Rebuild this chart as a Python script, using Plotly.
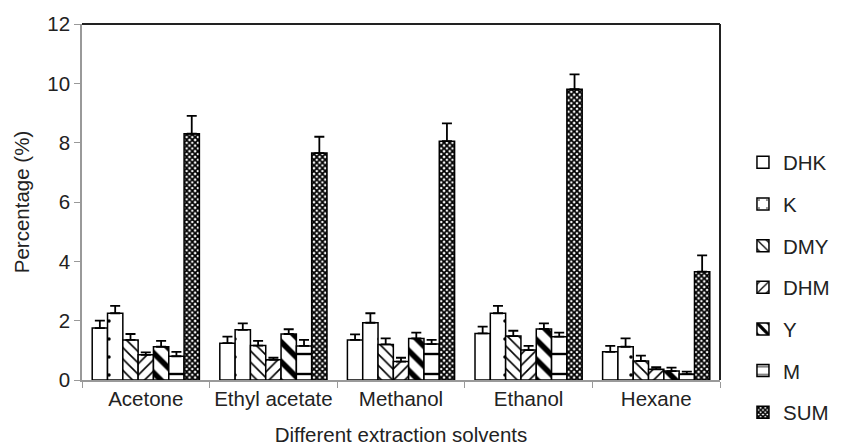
import plotly.graph_objects as go

solvents = ["Acetone", "Ethyl acetate", "Methanol", "Ethanol", "Hexane"]
series_names = ["DHK", "K", "DMY", "DHM", "Y", "M", "SUM"]

dhk = [1.75, 1.24, 1.35, 1.57, 0.95]
dhk_err = [0.25, 0.22, 0.19, 0.23, 0.20]
k = [2.25, 1.69, 1.93, 2.25, 1.12]
k_err = [0.25, 0.22, 0.32, 0.25, 0.28]
dmy = [1.35, 1.16, 1.20, 1.48, 0.64]
dmy_err = [0.20, 0.16, 0.20, 0.18, 0.18]
dhm = [0.85, 0.68, 0.62, 1.01, 0.36]
dhm_err = [0.08, 0.07, 0.13, 0.14, 0.07]
y_ = [1.12, 1.55, 1.40, 1.72, 0.30]
y_err = [0.20, 0.16, 0.20, 0.19, 0.12]
m = [0.80, 1.15, 1.21, 1.46, 0.20]
m_err = [0.15, 0.20, 0.14, 0.14, 0.08]
total = [8.30, 7.65, 8.05, 9.80, 3.65]
total_err = [0.60, 0.55, 0.60, 0.50, 0.55]

values = [dhk, k, dmy, dhm, y_, m, total]
errors = [dhk_err, k_err, dmy_err, dhm_err, y_err, m_err, total_err]

patterns = [
    dict(shape=""),
    dict(shape=".", size=18, solidity=0.03, fgcolor="black", fgopacity=1),
    dict(shape="\\", size=8, solidity=0.2, fgcolor="black", fgopacity=1),
    dict(shape="/", size=8, solidity=0.2, fgcolor="black", fgopacity=1),
    dict(shape="\\", size=14, solidity=0.4, fgcolor="black", fgopacity=1),
    dict(shape="-", size=20, solidity=0.12, fgcolor="black", fgopacity=1),
    dict(shape="x", size=4, solidity=0.7, fgcolor="black", fgopacity=1),
]

FONT = "Liberation Sans, Arial, sans-serif"
FS = 20.5
fig = go.Figure()
for i, name in enumerate(series_names):
    fig.add_trace(go.Bar(
        x=solvents, y=values[i], name=name,
        legendgroup=name,
        marker=dict(color="white", line=dict(color="black", width=1.5),
                    pattern=patterns[i]),
        error_y=dict(type="data", symmetric=False, array=errors[i],
                     arrayminus=[0] * len(solvents),
                     color="black", thickness=1.8, width=5),
    ))

fig.update_layout(
    width=833, height=438,
    margin=dict(l=74, r=121, t=16, b=66, autoexpand=False),
    paper_bgcolor="white", plot_bgcolor="white",
    barmode="group", bargap=0.16, bargroupgap=0,
    font=dict(family=FONT, size=FS, color="#222"),
    legend=dict(x=1.036, xanchor="left", y=0.667, yanchor="top",
                tracegroupgap=12, font=dict(size=FS),
                itemwidth=30, bgcolor="rgba(0,0,0,0)"),
    xaxis=dict(title=dict(text="Different extraction solvents", standoff=18,
                          font=dict(size=FS)),
               automargin=False, tickangle=0,
               showline=True, linecolor="#999", linewidth=1.5,
               tickson="boundaries", ticks="outside", ticklen=6,
               tickcolor="#999", showgrid=False),
    yaxis=dict(title=dict(text="Percentage (%)", standoff=12, font=dict(size=FS)),
               automargin=False,
               range=[0, 12], dtick=2, showline=True, linecolor="#999",
               linewidth=1.5, ticks="outside", ticklen=6, tickcolor="#999",
               showgrid=False, zeroline=False),
    shapes=[
        dict(type="line", xref="paper", yref="paper", x0=0, x1=1, y0=1, y1=1,
             line=dict(color="#222", width=2)),
        dict(type="line", xref="paper", yref="paper", x0=1, x1=1, y0=0, y1=1,
             line=dict(color="#222", width=2)),
    ],
)

fig.write_html("out.html")
